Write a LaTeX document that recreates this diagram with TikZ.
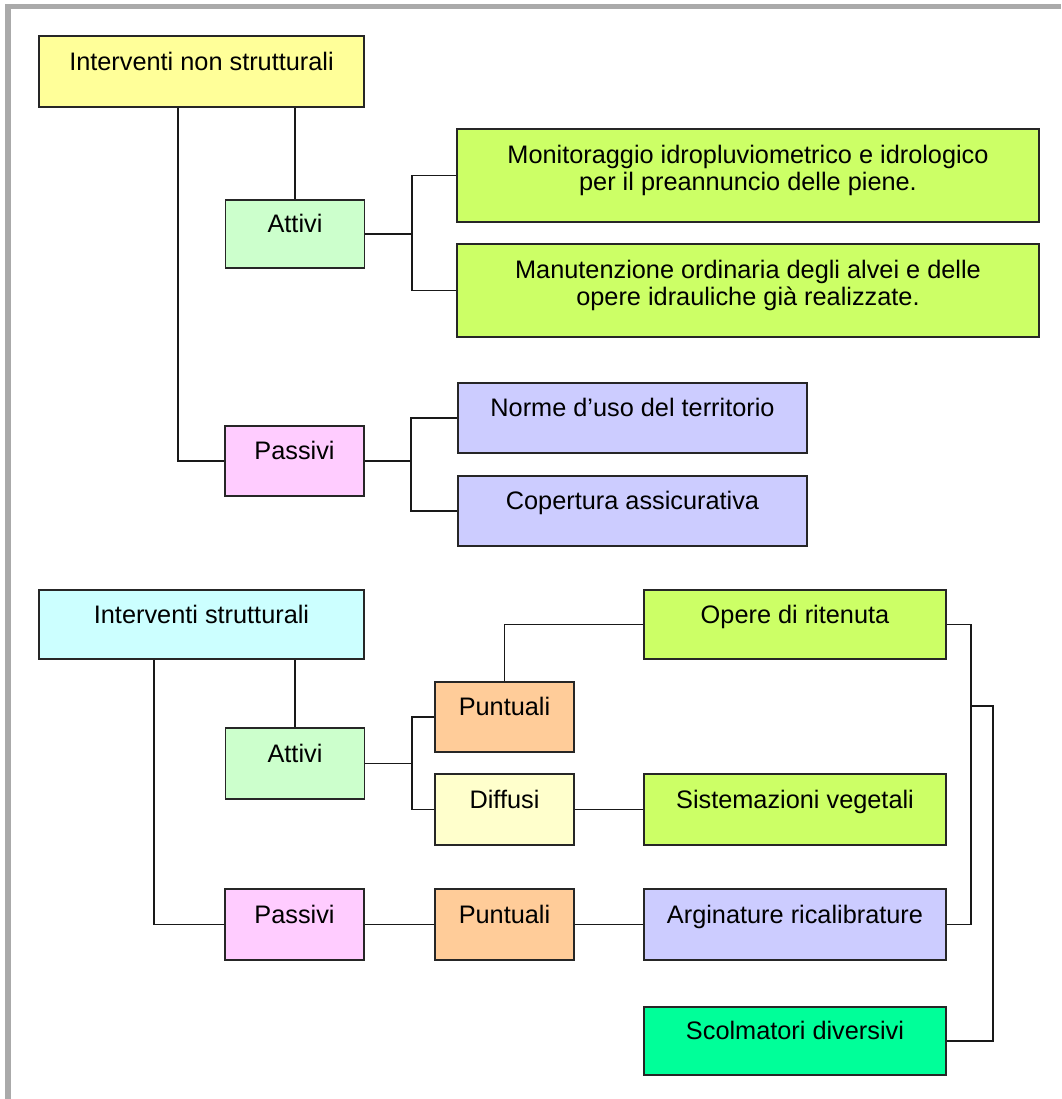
\documentclass[tikz,border=0pt]{standalone}
\usepackage{fontspec}
\setmainfont{Liberation Sans}
\usetikzlibrary{calc, positioning}
\definecolor{giallo}{HTML}{FFFF99}
\definecolor{verdino}{HTML}{CCFFCC}
\definecolor{lime}{HTML}{CCFF66}
\definecolor{rosa}{HTML}{FFCCFF}
\definecolor{lavanda}{HTML}{CCCCFF}
\definecolor{ciano}{HTML}{CCFFFF}
\definecolor{pesca}{HTML}{FFCC99}
\definecolor{crema}{HTML}{FFFFCC}
\definecolor{smeraldo}{HTML}{00FF99}
\definecolor{cornice}{HTML}{AAAAAA}

\begin{document}
\begin{tikzpicture}
[x=0.025cm, y=-0.025cm,
block_normal/.style ={rectangle, draw=black!85, line width=1.2pt, text centered, inner sep=1pt, font=\fontsize{18pt}{19.2pt}\selectfont, text height=0.5cm, text depth=0.575cm},
block_two/.style ={block_normal, align=center, text height=1.125cm, text depth=0.375cm},
block_head/.style ={block_normal, minimum width=8.125cm},
block_small/.style ={block_normal, minimum width=3.475cm},
block_mid/.style ={block_normal, minimum width=7.55cm},
line_con/.style ={draw, line width=1.3pt, black!90},
frame_line/.style ={draw=cornice, line width=0.13cm}]

\useasboundingbox (0,0) rectangle (1061,1099);
\draw [frame_line] (8,1099) -- (8,6.5) -- (1061,6.5);

% sezione 1
\node [block_head, fill=giallo, minimum height=1.775cm] (ins) at (201.5,71.5) {Interventi non strutturali};
\node [block_small, fill=verdino, minimum height=1.7cm] (attA) at (295,234) {Attivi};
\node [block_two, fill=lime, minimum width=14.55cm, minimum height=2.325cm] (mon) at (748,175.5) {Monitoraggio idropluviometrico e idrologico\\per il preannuncio delle piene.};
\node [block_two, fill=lime, minimum width=14.55cm, minimum height=2.325cm] (man) at (748,290.5) {Manutenzione ordinaria degli alvei e delle\\opere idrauliche già realizzate.};
\node [block_small, fill=rosa, minimum height=1.75cm] (pasA) at (294.5,461) {Passivi};
\node [block_normal, fill=lavanda, minimum width=8.725cm, minimum height=1.75cm] (nor) at (632.5,418) {Norme d’uso del territorio};
\node [block_normal, fill=lavanda, minimum width=8.725cm, minimum height=1.75cm] (cop) at (632.5,511) {Copertura assicurativa};

% sezione 2
\node [block_head, fill=ciano, minimum height=1.725cm] (ist) at (201.5,624.5) {Interventi strutturali};
\node [block_small, fill=verdino, minimum height=1.775cm] (attB) at (295,763.5) {Attivi};
\node [block_small, fill=pesca, minimum height=1.75cm] (punA) at (504.5,717) {Puntuali};
\node [block_small, fill=crema, minimum height=1.775cm] (dif) at (504.5,809.5) {Diffusi};
\node [block_mid, fill=lime, minimum height=1.725cm] (ope) at (795,624.5) {Opere di ritenuta};
\node [block_mid, fill=lime, minimum height=1.775cm] (sis) at (795,809.5) {Sistemazioni vegetali};
\node [block_small, fill=rosa, minimum height=1.775cm] (pasB) at (294.5,924.5) {Passivi};
\node [block_small, fill=pesca, minimum height=1.775cm] (punB) at (504.5,924.5) {Puntuali};
\node [block_mid, fill=lavanda, minimum height=1.775cm] (arg) at (795,924.5) {Arginature ricalibrature};
\node [block_mid, fill=smeraldo, minimum height=1.7cm] (sco) at (795,1041) {Scolmatori diversivi};

%Linee sezione 1
\draw [line_con] (ins.south west) ++(140,0) |- (pasA.west);
\draw [line_con] (attA.north) -- (attA.north |- ins.south);
\draw [line_con] (attA.east) -- ++(47,0) coordinate (jA);
\draw [line_con] (mon.west) -| (jA) |- (man.west);
\draw [line_con] (pasA.east) -- ++(46.5,0) coordinate (jP);
\draw [line_con] (nor.west) -| (jP) |- (cop.west);

%Linee sezione 2
\draw [line_con] (ist.south west) ++(116,0) |- (pasB.west);
\draw [line_con] (attB.north) -- (attB.north |- ist.south);
\draw [line_con] (attB.east) -- ++(47,0) coordinate (jB);
\draw [line_con] (punA.west) -| (jB) |- (dif.west);
\draw [line_con] (punA.north) |- (ope.west);
\draw [line_con] (dif) -- (sis);
\draw [line_con] (pasB) -- (punB);
\draw [line_con] (punB) -- (arg);
\draw [line_con] (ope.east) -- ++(24,0) coordinate (jR) |- (arg.east);
\draw [line_con] ($(jR)+(0,81.5)$) -| ($(sco.east)+(46,0)$) -- (sco.east);

\end{tikzpicture}
\end{document}
